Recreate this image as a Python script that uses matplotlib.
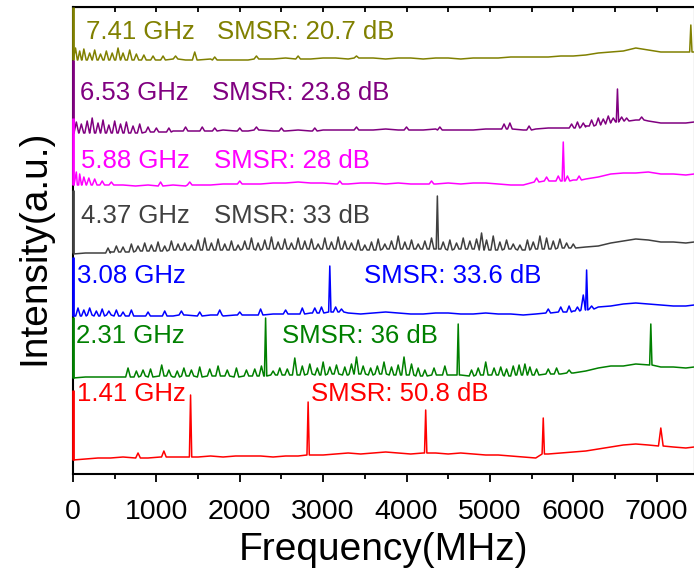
import matplotlib
matplotlib.use('Agg')
import matplotlib.pyplot as plt
from matplotlib.ticker import MultipleLocator

# sampling points of the slowly varying floor of every trace (MHz)
freq_grid = [0, 150, 300, 450, 600, 750, 900, 1050, 1200, 1350, 1500, 1650, 1800,
             1950, 2100, 2250, 2400, 2550, 2700, 2850, 3000, 3150, 3300, 3450, 3600,
             3750, 3900, 4050, 4200, 4350, 4500, 4650, 4800, 4950, 5100, 5250, 5400,
             5550, 5700, 5850, 6000, 6150, 6300, 6450, 6600, 6750, 6900, 7050, 7200,
             7350, 7450]

# floor of each spectrum (a.u., already stacked)
red_base = [14, 15, 16, 16, 17, 16, 16, 17, 17, 17, 17, 18, 17, 18, 18, 18, 17, 18, 18, 19,
            19, 20, 21, 20, 21, 22, 21, 20, 21, 21, 20, 21, 20, 19, 19, 18, 17, 16, 20, 21,
            22, 23, 25, 27, 29, 30, 29, 27, 27, 26, 27]
green_base = [96, 97, 97, 97, 97, 98, 97, 98, 97, 98, 97, 98, 98, 97, 98, 98, 99, 99, 99, 100,
              99, 100, 99, 100, 99, 100, 99, 99, 98, 99, 99, 99, 98, 99, 99, 98, 99, 99, 100, 100,
              101, 103, 106, 108, 108, 110, 109, 107, 107, 106, 107]
blue_base = [158, 159, 158, 159, 158, 158, 159, 158, 158, 159, 158, 159, 158, 159, 159, 159, 160,
             160, 160, 161, 162, 162, 161, 160, 161, 162, 161, 160, 160, 161, 161, 160, 160, 161,
             160, 160, 159, 160, 161, 162, 163, 164, 167, 168, 170, 171, 170, 169, 168, 168, 169]
gray_base = [220, 221, 221, 222, 222, 223, 223, 223, 224, 224, 224, 224, 224, 224, 225, 224, 225,
             225, 225, 225, 225, 225, 225, 224, 224, 225, 225, 225, 225, 225, 224, 225, 225, 224,
             224, 225, 224, 225, 225, 226, 226, 227, 228, 231, 233, 235, 234, 232, 232, 231, 232]
magenta_base = [292, 289, 289, 289, 289, 288, 289, 288, 289, 288, 289, 289, 290, 290, 290, 290,
                291, 291, 292, 291, 291, 290, 290, 291, 291, 290, 291, 290, 290, 290, 291, 290,
                291, 291, 290, 289, 289, 292, 294, 293, 294, 295, 297, 300, 301, 301, 302, 300,
                300, 299, 300]
purple_base = [341, 341, 341, 341, 341, 341, 342, 342, 343, 343, 343, 343, 344, 343, 343, 344,
               343, 343, 344, 343, 344, 344, 344, 344, 344, 345, 344, 344, 344, 345, 344, 344,
               344, 345, 345, 345, 344, 345, 346, 346, 347, 348, 350, 352, 353, 354, 353, 351,
               351, 351, 352]
olive_base = [414, 414, 414, 414, 414, 414, 414, 414, 415, 414, 414, 415, 414, 414, 414, 415,
              415, 416, 415, 415, 416, 416, 415, 416, 416, 415, 416, 416, 415, 416, 416, 415,
              416, 416, 416, 417, 417, 417, 417, 418, 418, 419, 421, 422, 423, 426, 424, 422,
              422, 422, 422]

# spikes: (frequency MHz, foot, top); the one at 0 MHz is the DC line on the left edge
red_spikes = [(0, 14, 84), (780, 16, 21), (1090, 17, 23), (1410, 17, 79), (2820, 19, 72),
              (4230, 21, 64), (5640, 20, 56), (7050, 28, 46)]
green_spikes = [(0, 96, 157), (660, 97, 106), (760, 97, 103), (840, 98, 104), (930, 97, 105),
                (1064, 98, 109), (1150, 98, 104), (1250, 97, 103), (1330, 98, 106),
                (1420, 98, 104), (1520, 97, 107), (1640, 98, 105), (1740, 98, 108),
                (1850, 98, 104), (1960, 97, 106), (2080, 98, 104), (2180, 98, 105),
                (2260, 98, 108), (2310, 98, 156), (2400, 99, 103), (2480, 99, 106),
                (2570, 99, 105), (2660, 99, 116), (2750, 99, 108), (2840, 100, 110),
                (2930, 99, 106), (3000, 99, 112), (3080, 100, 107), (3160, 100, 109),
                (3260, 99, 107), (3340, 100, 110), (3400, 100, 117), (3480, 100, 108),
                (3570, 99, 106), (3650, 100, 108), (3730, 100, 112), (3820, 99, 107),
                (3900, 99, 109), (3970, 99, 117), (4060, 99, 110), (4140, 98, 106),
                (4220, 98, 104), (4330, 99, 106), (4460, 99, 108), (4620, 99, 150),
                (4780, 98, 104), (4860, 99, 106), (4950, 99, 112), (5050, 99, 106),
                (5130, 99, 107), (5200, 98, 105), (5280, 99, 108), (5350, 99, 109),
                (5420, 99, 110), (5480, 99, 107), (5560, 99, 105), (5700, 100, 105),
                (5800, 100, 106), (5950, 101, 104), (6930, 109, 150)]
blue_spikes = [(0, 158, 217), (60, 158, 166), (130, 158, 164), (200, 159, 166), (280, 158, 163),
               (350, 158, 165), (430, 159, 163), (520, 158, 164), (600, 158, 162),
               (700, 158, 164), (900, 158, 162), (1100, 158, 163), (1300, 159, 163),
               (1520, 158, 162), (1760, 159, 164), (2000, 159, 162), (2250, 159, 165),
               (2550, 160, 164), (2750, 160, 166), (2900, 161, 166), (2980, 161, 167),
               (3080, 162, 208), (3150, 162, 167), (3220, 162, 165), (5700, 161, 165),
               (5850, 162, 167), (5950, 162, 168), (6050, 163, 167), (6120, 164, 179),
               (6160, 164, 204), (6220, 165, 168)]
gray_spikes = [(0, 221, 284), (420, 221, 226), (520, 222, 228), (600, 222, 227), (700, 222, 230),
               (780, 223, 228), (860, 223, 231), (940, 223, 229), (1020, 223, 232),
               (1100, 223, 228), (1180, 224, 233), (1260, 224, 230), (1340, 224, 231),
               (1420, 224, 229), (1500, 224, 234), (1580, 224, 236), (1660, 224, 231),
               (1740, 224, 235), (1820, 224, 230), (1900, 224, 233), (1980, 224, 229),
               (2060, 225, 233), (2140, 225, 236), (2220, 224, 231), (2300, 225, 234),
               (2380, 225, 237), (2460, 225, 232), (2540, 225, 235), (2620, 225, 231),
               (2700, 225, 236), (2780, 225, 233), (2860, 225, 235), (2940, 225, 230),
               (3020, 225, 236), (3100, 225, 232), (3180, 225, 237), (3260, 225, 233),
               (3340, 225, 231), (3420, 224, 234), (3500, 224, 229), (3580, 224, 232),
               (3660, 224, 235), (3740, 225, 230), (3820, 225, 233), (3900, 225, 238),
               (3980, 225, 232), (4060, 225, 234), (4140, 225, 230), (4220, 225, 233),
               (4300, 225, 236), (4370, 225, 278), (4440, 225, 232), (4520, 224, 234),
               (4600, 225, 231), (4680, 225, 236), (4760, 225, 233), (4840, 225, 235),
               (4900, 224, 241), (4960, 224, 234), (5040, 224, 238), (5120, 224, 232),
               (5200, 225, 234), (5280, 225, 230), (5360, 224, 229), (5450, 224, 234),
               (5520, 225, 232), (5600, 225, 238), (5680, 225, 236), (5760, 225, 233),
               (5840, 226, 235), (5920, 226, 231), (6000, 226, 230)]
magenta_spikes = [(0, 289, 356), (40, 289, 302), (80, 289, 300), (130, 289, 297),
                  (190, 289, 296), (260, 289, 295), (350, 289, 293), (460, 289, 292),
                  (1050, 288, 292), (1400, 289, 292), (2000, 290, 293), (3200, 290, 293),
                  (4300, 290, 293), (5560, 292, 296), (5680, 293, 297), (5820, 293, 298),
                  (5880, 293, 332), (5930, 293, 298), (6070, 294, 298)]
purple_spikes = [(0, 341, 414), (40, 341, 352), (100, 341, 350), (170, 341, 353),
                 (230, 341, 356), (300, 341, 351), (360, 341, 354), (430, 341, 349),
                 (500, 341, 353), (570, 341, 350), (640, 341, 352), (720, 341, 348),
                 (800, 341, 350), (900, 342, 347), (1000, 342, 346), (1150, 342, 346),
                 (1350, 343, 347), (1550, 343, 347), (1700, 343, 346), (2000, 343, 346),
                 (2200, 344, 347), (2500, 343, 346), (2900, 343, 346), (3400, 344, 347),
                 (4000, 344, 347), (4400, 344, 347), (5170, 345, 350), (5240, 345, 351),
                 (5470, 344, 348), (5980, 346, 350), (6050, 346, 352), (6120, 347, 351),
                 (6220, 348, 354), (6300, 349, 356), (6360, 350, 355), (6420, 351, 358),
                 (6480, 352, 356), (6530, 352, 385), (6580, 353, 357), (6640, 353, 356),
                 (6820, 354, 357)]
olive_spikes = [(0, 414, 467), (30, 414, 426), (80, 414, 423), (130, 414, 425), (200, 414, 421),
                (260, 414, 424), (330, 414, 420), (400, 414, 423), (470, 414, 421),
                (540, 414, 426), (600, 414, 421), (680, 414, 424), (760, 414, 420),
                (850, 414, 419), (960, 414, 418), (1080, 414, 418), (1230, 415, 418),
                (1460, 414, 422), (1700, 414, 417), (2200, 415, 418), (2700, 415, 418),
                (3400, 416, 418), (7410, 422, 449)]

freq_labels = ['7.41 GHz', '6.53 GHz', '5.88 GHz', '4.37 GHz', '3.08 GHz', '2.31 GHz', '1.41 GHz']
smsr_labels = ['SMSR: 20.7 dB', 'SMSR: 23.8 dB', 'SMSR: 28 dB', 'SMSR: 33 dB',
               'SMSR: 33.6 dB', 'SMSR: 36 dB', 'SMSR: 50.8 dB']

# half width of a drawn spike, MHz: narrow for the modes, wider for the noise grass
PEAK_HW = 14
NOISE_HW = 28


def draw_trace(ax, base, spikes, color):
    inner = [s for s in spikes if s[0] > 0]
    edge = [s for s in spikes if s[0] == 0]
    hw = [PEAK_HW if hi - lo > 20 else NOISE_HW for _, lo, hi in inner]
    pts = [(f, v) for f, v in zip(freq_grid, base)
           if all(abs(f - s[0]) > w for s, w in zip(inner, hw))]
    for (f, lo, hi), w in zip(inner, hw):
        pts += [(f - w, lo), (f, hi), (f + w, lo)]
    pts.sort(key=lambda p: p[0])
    xs, ys = zip(*pts)
    ax.plot(xs, ys, color=color, lw=1.1, zorder=3)
    for f, lo, hi in edge:
        ax.vlines(f, lo, hi, colors=color, lw=2.0, zorder=3, clip_on=False)


def main():
    plt.rcParams['font.family'] = ['Liberation Sans', 'DejaVu Sans']

    fig = plt.figure(figsize=(6.94, 5.70), dpi=100)
    ax = fig.add_axes([73 / 694, 96 / 570, 622 / 694, 467 / 570])

    colors = ['#808000', '#800080', '#ff00ff', '#404040', '#0000ff', '#008000', '#ff0000']
    bases = [olive_base, purple_base, magenta_base, gray_base, blue_base, green_base, red_base]
    spikes = [olive_spikes, purple_spikes, magenta_spikes, gray_spikes, blue_spikes,
              green_spikes, red_spikes]
    for b, s, c in zip(bases, spikes, colors):
        draw_trace(ax, b, s, c)

    # label positions (MHz, a.u.)
    pos_freq = [(150, 435), (80, 374), (95, 306), (95, 251), (50, 191), (40, 131), (50, 73)]
    pos_smsr = [(1730, 435), (1670, 374), (1695, 306), (1695, 251), (3490, 191),
                (2510, 131), (2855, 73)]
    for i, c in enumerate(colors):
        ax.text(*pos_freq[i], freq_labels[i], color=c, fontsize=18.5, va='baseline')
        ax.text(*pos_smsr[i], smsr_labels[i], color=c, fontsize=18.5, va='baseline')

    ax.set_xlim(0, 7460)
    ax.set_ylim(0, 467)
    ax.set_yticks([])
    ax.xaxis.set_major_locator(MultipleLocator(1000))
    ax.xaxis.set_minor_locator(MultipleLocator(500))
    ax.tick_params(axis='x', which='major', direction='out', length=6, width=1.3,
                   labelsize=20.5, pad=12)
    ax.tick_params(axis='x', which='minor', direction='out', length=3.5, width=1.3)
    for sp in ax.spines.values():
        sp.set_linewidth(1.5)

    top = ax.secondary_xaxis('top')
    top.xaxis.set_major_locator(MultipleLocator(1000))
    top.xaxis.set_minor_locator(MultipleLocator(500))
    top.tick_params(axis='x', which='both', direction='in', length=3.5, width=1.3,
                    labeltop=False)

    ax.set_xlabel('Frequency(MHz)', fontsize=28, labelpad=5)
    fig.text(34 / 694, 1 - 247 / 570, 'Intensity(a.u.)', fontsize=28, rotation=90,
             ha='center', va='center')

    fig.savefig('out.png', dpi=100)


if __name__ == '__main__':
    main()
